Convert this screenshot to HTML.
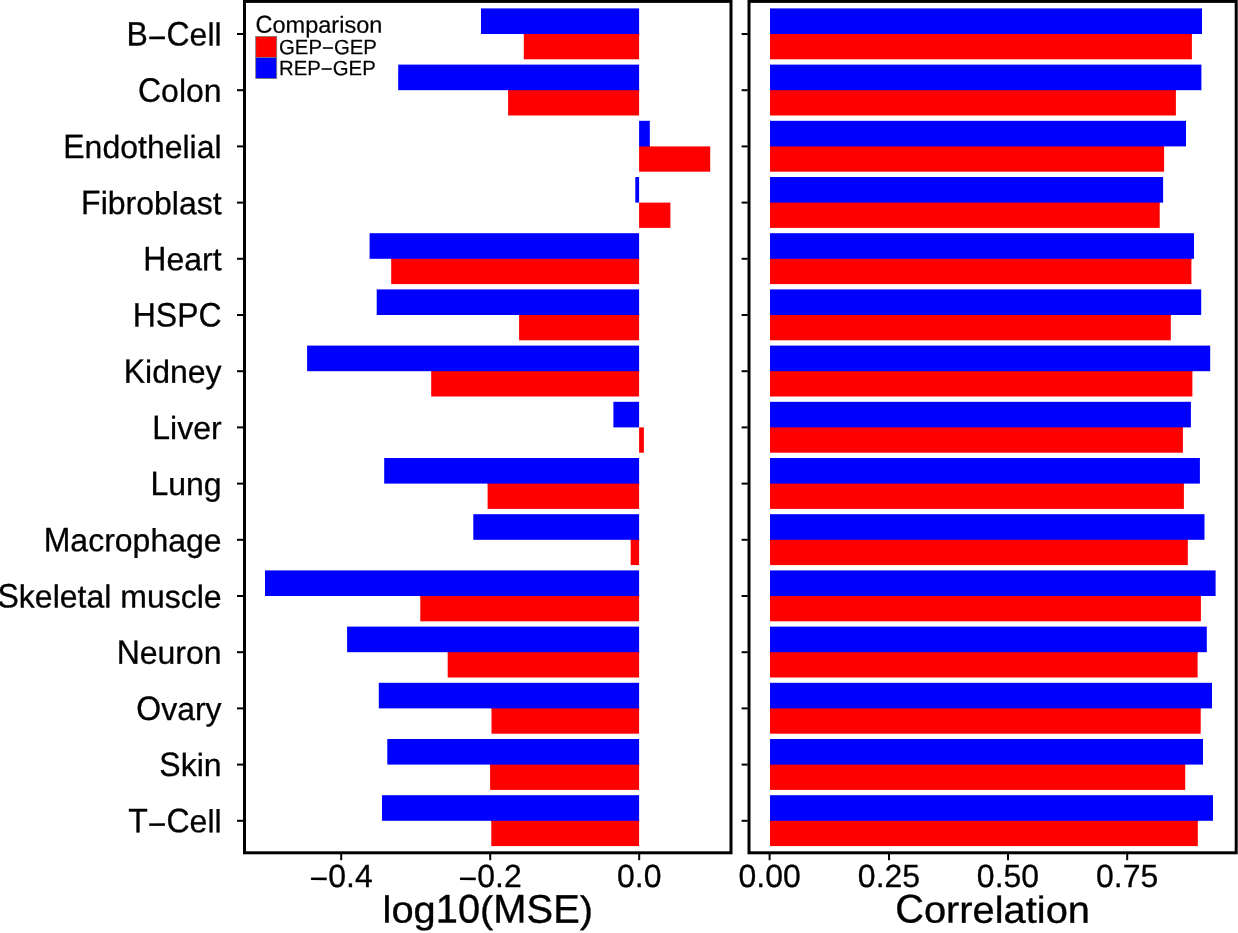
<!DOCTYPE html><html><head><meta charset="utf-8"><title>chart</title><style>html,body{margin:0;padding:0;background:#fff;}svg{display:block;}text{white-space:pre;font-family:"Liberation Sans",sans-serif;fill:#000;stroke:#000;stroke-linejoin:round;font-kerning:none;}</style></head><body>
<svg width="1238" height="933" viewBox="0 0 1238 933">
<rect x="0" y="0" width="1238" height="933" fill="#fff"/>
<rect x="523.80" y="34.00" width="115.30" height="25.30" fill="#ff0000"/>
<rect x="523.80" y="33.00" width="115.30" height="2.00" fill="#ff0000"/>
<rect x="481.00" y="8.40" width="158.10" height="25.60" fill="#0000ff"/>
<rect x="508.10" y="90.20" width="131.00" height="25.30" fill="#ff0000"/>
<rect x="508.10" y="89.20" width="131.00" height="2.00" fill="#ff0000"/>
<rect x="398.20" y="64.60" width="240.90" height="25.60" fill="#0000ff"/>
<rect x="639.10" y="146.40" width="71.10" height="25.30" fill="#ff0000"/>
<rect x="639.10" y="145.40" width="10.70" height="2.00" fill="#ff0000"/>
<rect x="639.10" y="120.80" width="10.70" height="25.60" fill="#0000ff"/>
<rect x="639.10" y="202.60" width="31.30" height="25.30" fill="#ff0000"/>
<rect x="635.30" y="177.00" width="3.80" height="25.60" fill="#0000ff"/>
<rect x="391.20" y="258.80" width="247.90" height="25.30" fill="#ff0000"/>
<rect x="391.20" y="257.80" width="247.90" height="2.00" fill="#ff0000"/>
<rect x="369.60" y="233.20" width="269.50" height="25.60" fill="#0000ff"/>
<rect x="519.10" y="315.00" width="120.00" height="25.30" fill="#ff0000"/>
<rect x="519.10" y="314.00" width="120.00" height="2.00" fill="#ff0000"/>
<rect x="376.70" y="289.40" width="262.40" height="25.60" fill="#0000ff"/>
<rect x="431.20" y="371.20" width="207.90" height="25.30" fill="#ff0000"/>
<rect x="431.20" y="370.20" width="207.90" height="2.00" fill="#ff0000"/>
<rect x="307.10" y="345.60" width="332.00" height="25.60" fill="#0000ff"/>
<rect x="639.10" y="427.40" width="4.80" height="25.30" fill="#ff0000"/>
<rect x="613.40" y="401.80" width="25.70" height="25.60" fill="#0000ff"/>
<rect x="487.60" y="483.60" width="151.50" height="25.30" fill="#ff0000"/>
<rect x="487.60" y="482.60" width="151.50" height="2.00" fill="#ff0000"/>
<rect x="384.20" y="458.00" width="254.90" height="25.60" fill="#0000ff"/>
<rect x="630.70" y="539.80" width="8.40" height="25.30" fill="#ff0000"/>
<rect x="630.70" y="538.80" width="8.40" height="2.00" fill="#ff0000"/>
<rect x="473.30" y="514.20" width="165.80" height="25.60" fill="#0000ff"/>
<rect x="420.30" y="596.00" width="218.80" height="25.30" fill="#ff0000"/>
<rect x="420.30" y="595.00" width="218.80" height="2.00" fill="#ff0000"/>
<rect x="265.00" y="570.40" width="374.10" height="25.60" fill="#0000ff"/>
<rect x="447.70" y="652.20" width="191.40" height="25.30" fill="#ff0000"/>
<rect x="447.70" y="651.20" width="191.40" height="2.00" fill="#ff0000"/>
<rect x="347.10" y="626.60" width="292.00" height="25.60" fill="#0000ff"/>
<rect x="491.50" y="708.40" width="147.60" height="25.30" fill="#ff0000"/>
<rect x="491.50" y="707.40" width="147.60" height="2.00" fill="#ff0000"/>
<rect x="378.80" y="682.80" width="260.30" height="25.60" fill="#0000ff"/>
<rect x="490.10" y="764.60" width="149.00" height="25.30" fill="#ff0000"/>
<rect x="490.10" y="763.60" width="149.00" height="2.00" fill="#ff0000"/>
<rect x="387.30" y="739.00" width="251.80" height="25.60" fill="#0000ff"/>
<rect x="491.30" y="820.80" width="147.80" height="25.30" fill="#ff0000"/>
<rect x="491.30" y="819.80" width="147.80" height="2.00" fill="#ff0000"/>
<rect x="382.00" y="795.20" width="257.10" height="25.60" fill="#0000ff"/>
<rect x="770.00" y="34.00" width="421.90" height="25.30" fill="#ff0000"/>
<rect x="770.00" y="33.00" width="421.90" height="2.00" fill="#ff0000"/>
<rect x="770.00" y="8.40" width="432.00" height="25.60" fill="#0000ff"/>
<rect x="770.00" y="90.20" width="405.90" height="25.30" fill="#ff0000"/>
<rect x="770.00" y="89.20" width="405.90" height="2.00" fill="#ff0000"/>
<rect x="770.00" y="64.60" width="431.40" height="25.60" fill="#0000ff"/>
<rect x="770.00" y="146.40" width="394.10" height="25.30" fill="#ff0000"/>
<rect x="770.00" y="145.40" width="394.10" height="2.00" fill="#ff0000"/>
<rect x="770.00" y="120.80" width="416.00" height="25.60" fill="#0000ff"/>
<rect x="770.00" y="202.60" width="389.70" height="25.30" fill="#ff0000"/>
<rect x="770.00" y="201.60" width="389.70" height="2.00" fill="#ff0000"/>
<rect x="770.00" y="177.00" width="393.10" height="25.60" fill="#0000ff"/>
<rect x="770.00" y="258.80" width="421.40" height="25.30" fill="#ff0000"/>
<rect x="770.00" y="257.80" width="421.40" height="2.00" fill="#ff0000"/>
<rect x="770.00" y="233.20" width="424.00" height="25.60" fill="#0000ff"/>
<rect x="770.00" y="315.00" width="400.80" height="25.30" fill="#ff0000"/>
<rect x="770.00" y="314.00" width="400.80" height="2.00" fill="#ff0000"/>
<rect x="770.00" y="289.40" width="431.20" height="25.60" fill="#0000ff"/>
<rect x="770.00" y="371.20" width="422.40" height="25.30" fill="#ff0000"/>
<rect x="770.00" y="370.20" width="422.40" height="2.00" fill="#ff0000"/>
<rect x="770.00" y="345.60" width="440.20" height="25.60" fill="#0000ff"/>
<rect x="770.00" y="427.40" width="412.90" height="25.30" fill="#ff0000"/>
<rect x="770.00" y="426.40" width="412.90" height="2.00" fill="#ff0000"/>
<rect x="770.00" y="401.80" width="420.90" height="25.60" fill="#0000ff"/>
<rect x="770.00" y="483.60" width="413.90" height="25.30" fill="#ff0000"/>
<rect x="770.00" y="482.60" width="413.90" height="2.00" fill="#ff0000"/>
<rect x="770.00" y="458.00" width="429.90" height="25.60" fill="#0000ff"/>
<rect x="770.00" y="539.80" width="417.80" height="25.30" fill="#ff0000"/>
<rect x="770.00" y="538.80" width="417.80" height="2.00" fill="#ff0000"/>
<rect x="770.00" y="514.20" width="434.50" height="25.60" fill="#0000ff"/>
<rect x="770.00" y="596.00" width="430.90" height="25.30" fill="#ff0000"/>
<rect x="770.00" y="595.00" width="430.90" height="2.00" fill="#ff0000"/>
<rect x="770.00" y="570.40" width="445.60" height="25.60" fill="#0000ff"/>
<rect x="770.00" y="652.20" width="427.60" height="25.30" fill="#ff0000"/>
<rect x="770.00" y="651.20" width="427.60" height="2.00" fill="#ff0000"/>
<rect x="770.00" y="626.60" width="436.80" height="25.60" fill="#0000ff"/>
<rect x="770.00" y="708.40" width="430.70" height="25.30" fill="#ff0000"/>
<rect x="770.00" y="707.40" width="430.70" height="2.00" fill="#ff0000"/>
<rect x="770.00" y="682.80" width="442.00" height="25.60" fill="#0000ff"/>
<rect x="770.00" y="764.60" width="415.20" height="25.30" fill="#ff0000"/>
<rect x="770.00" y="763.60" width="415.20" height="2.00" fill="#ff0000"/>
<rect x="770.00" y="739.00" width="433.00" height="25.60" fill="#0000ff"/>
<rect x="770.00" y="820.80" width="427.80" height="25.30" fill="#ff0000"/>
<rect x="770.00" y="819.80" width="427.80" height="2.00" fill="#ff0000"/>
<rect x="770.00" y="795.20" width="443.00" height="25.60" fill="#0000ff"/>
<rect x="244.5" y="1.4" width="486.5" height="851.4" fill="none" stroke="#000" stroke-width="3"/>
<rect x="749" y="1.4" width="487.2" height="851.4" fill="none" stroke="#000" stroke-width="3"/>
<line x1="237" x2="243.2" y1="34.00" y2="34.00" stroke="#000" stroke-width="2"/>
<line x1="741.6" x2="747.7" y1="34.00" y2="34.00" stroke="#000" stroke-width="2"/>
<line x1="237" x2="243.2" y1="90.20" y2="90.20" stroke="#000" stroke-width="2"/>
<line x1="741.6" x2="747.7" y1="90.20" y2="90.20" stroke="#000" stroke-width="2"/>
<line x1="237" x2="243.2" y1="146.40" y2="146.40" stroke="#000" stroke-width="2"/>
<line x1="741.6" x2="747.7" y1="146.40" y2="146.40" stroke="#000" stroke-width="2"/>
<line x1="237" x2="243.2" y1="202.60" y2="202.60" stroke="#000" stroke-width="2"/>
<line x1="741.6" x2="747.7" y1="202.60" y2="202.60" stroke="#000" stroke-width="2"/>
<line x1="237" x2="243.2" y1="258.80" y2="258.80" stroke="#000" stroke-width="2"/>
<line x1="741.6" x2="747.7" y1="258.80" y2="258.80" stroke="#000" stroke-width="2"/>
<line x1="237" x2="243.2" y1="315.00" y2="315.00" stroke="#000" stroke-width="2"/>
<line x1="741.6" x2="747.7" y1="315.00" y2="315.00" stroke="#000" stroke-width="2"/>
<line x1="237" x2="243.2" y1="371.20" y2="371.20" stroke="#000" stroke-width="2"/>
<line x1="741.6" x2="747.7" y1="371.20" y2="371.20" stroke="#000" stroke-width="2"/>
<line x1="237" x2="243.2" y1="427.40" y2="427.40" stroke="#000" stroke-width="2"/>
<line x1="741.6" x2="747.7" y1="427.40" y2="427.40" stroke="#000" stroke-width="2"/>
<line x1="237" x2="243.2" y1="483.60" y2="483.60" stroke="#000" stroke-width="2"/>
<line x1="741.6" x2="747.7" y1="483.60" y2="483.60" stroke="#000" stroke-width="2"/>
<line x1="237" x2="243.2" y1="539.80" y2="539.80" stroke="#000" stroke-width="2"/>
<line x1="741.6" x2="747.7" y1="539.80" y2="539.80" stroke="#000" stroke-width="2"/>
<line x1="237" x2="243.2" y1="596.00" y2="596.00" stroke="#000" stroke-width="2"/>
<line x1="741.6" x2="747.7" y1="596.00" y2="596.00" stroke="#000" stroke-width="2"/>
<line x1="237" x2="243.2" y1="652.20" y2="652.20" stroke="#000" stroke-width="2"/>
<line x1="741.6" x2="747.7" y1="652.20" y2="652.20" stroke="#000" stroke-width="2"/>
<line x1="237" x2="243.2" y1="708.40" y2="708.40" stroke="#000" stroke-width="2"/>
<line x1="741.6" x2="747.7" y1="708.40" y2="708.40" stroke="#000" stroke-width="2"/>
<line x1="237" x2="243.2" y1="764.60" y2="764.60" stroke="#000" stroke-width="2"/>
<line x1="741.6" x2="747.7" y1="764.60" y2="764.60" stroke="#000" stroke-width="2"/>
<line x1="237" x2="243.2" y1="820.80" y2="820.80" stroke="#000" stroke-width="2"/>
<line x1="741.6" x2="747.7" y1="820.80" y2="820.80" stroke="#000" stroke-width="2"/>
<line x1="341.2" x2="341.2" y1="854" y2="860.2" stroke="#000" stroke-width="2"/>
<line x1="490.2" x2="490.2" y1="854" y2="860.2" stroke="#000" stroke-width="2"/>
<line x1="639.2" x2="639.2" y1="854" y2="860.2" stroke="#000" stroke-width="2"/>
<line x1="769.6" x2="769.6" y1="854" y2="860.2" stroke="#000" stroke-width="2"/>
<line x1="889.0" x2="889.0" y1="854" y2="860.2" stroke="#000" stroke-width="2"/>
<line x1="1008.0" x2="1008.0" y1="854" y2="860.2" stroke="#000" stroke-width="2"/>
<line x1="1127.2" x2="1127.2" y1="854" y2="860.2" stroke="#000" stroke-width="2"/>
<rect x="255.7" y="36.4" width="21" height="21" fill="#ff0000" stroke="#777" stroke-width="0.8"/>
<rect x="255.7" y="57.5" width="21" height="21" fill="#0000ff" stroke="#777" stroke-width="0.8"/>
<g opacity="0.999">
<text transform="translate(126.44,45.50) scale(1,1.0600) skewY(0.05)" font-size="32.0" stroke-width="0.30">B</text><text transform="translate(147.79,48.44) scale(1,1.0000) skewY(0.05)" font-size="32.0" stroke-width="0.30">−</text><text transform="translate(166.47,45.50) scale(1,1.0600) skewY(0.05)" font-size="32.0" stroke-width="0.30">C</text><text transform="translate(189.58,45.50) scale(1,1.0000) skewY(0.05)" font-size="32.0" stroke-width="0.30">ell</text>
<text transform="translate(137.99,101.70) scale(1,1.0600) skewY(0.05)" font-size="32.0" stroke-width="0.30">C</text><text transform="translate(161.10,101.70) scale(1,1.0000) skewY(0.05)" font-size="32.0" stroke-width="0.30">olon</text>
<text transform="translate(63.26,157.90) scale(1,1.0600) skewY(0.05)" font-size="32.0" stroke-width="0.30">E</text><text transform="translate(84.60,157.90) scale(1,1.0000) skewY(0.05)" font-size="32.0" stroke-width="0.30">ndothelial</text>
<text transform="translate(81.10,214.10) scale(1,1.0600) skewY(0.05)" font-size="32.0" stroke-width="0.30">F</text><text transform="translate(100.65,214.10) scale(1,1.0000) skewY(0.05)" font-size="32.0" stroke-width="0.30">ibroblast</text>
<text transform="translate(143.35,270.30) scale(1,1.0600) skewY(0.05)" font-size="32.0" stroke-width="0.30">H</text><text transform="translate(166.46,270.30) scale(1,1.0000) skewY(0.05)" font-size="32.0" stroke-width="0.30">eart</text>
<text transform="translate(132.69,326.50) scale(1,1.0600) skewY(0.05)" font-size="32.0" stroke-width="0.30">HSPC</text>
<text transform="translate(123.76,382.70) scale(1,1.0600) skewY(0.05)" font-size="32.0" stroke-width="0.30">K</text><text transform="translate(145.10,382.70) scale(1,1.0000) skewY(0.05)" font-size="32.0" stroke-width="0.30">idney</text>
<text transform="translate(152.24,438.90) scale(1,1.0600) skewY(0.05)" font-size="32.0" stroke-width="0.30">L</text><text transform="translate(170.04,438.90) scale(1,1.0000) skewY(0.05)" font-size="32.0" stroke-width="0.30">iver</text>
<text transform="translate(150.41,495.10) scale(1,1.0600) skewY(0.05)" font-size="32.0" stroke-width="0.30">L</text><text transform="translate(168.21,495.10) scale(1,1.0000) skewY(0.05)" font-size="32.0" stroke-width="0.30">ung</text>
<text transform="translate(43.71,551.30) scale(1,1.0600) skewY(0.05)" font-size="32.0" stroke-width="0.30">M</text><text transform="translate(70.37,551.30) scale(1,1.0000) skewY(0.05)" font-size="32.0" stroke-width="0.30">acrophage</text>
<text transform="translate(-2.49,607.50) scale(1,1.0600) skewY(0.05)" font-size="32.0" stroke-width="0.30">S</text><text transform="translate(18.85,607.50) scale(1,1.0000) skewY(0.05)" font-size="32.0" stroke-width="0.30">keletal muscle</text>
<text transform="translate(116.65,663.70) scale(1,1.0600) skewY(0.05)" font-size="32.0" stroke-width="0.30">N</text><text transform="translate(139.76,663.70) scale(1,1.0000) skewY(0.05)" font-size="32.0" stroke-width="0.30">euron</text>
<text transform="translate(136.26,719.90) scale(1,1.0600) skewY(0.05)" font-size="32.0" stroke-width="0.30">O</text><text transform="translate(161.15,719.90) scale(1,1.0000) skewY(0.05)" font-size="32.0" stroke-width="0.30">vary</text>
<text transform="translate(159.35,776.10) scale(1,1.0600) skewY(0.05)" font-size="32.0" stroke-width="0.30">S</text><text transform="translate(180.69,776.10) scale(1,1.0000) skewY(0.05)" font-size="32.0" stroke-width="0.30">kin</text>
<text transform="translate(128.24,832.30) scale(1,1.0600) skewY(0.05)" font-size="32.0" stroke-width="0.30">T</text><text transform="translate(147.79,835.24) scale(1,1.0000) skewY(0.05)" font-size="32.0" stroke-width="0.30">−</text><text transform="translate(166.47,832.30) scale(1,1.0600) skewY(0.05)" font-size="32.0" stroke-width="0.30">C</text><text transform="translate(189.58,832.30) scale(1,1.0000) skewY(0.05)" font-size="32.0" stroke-width="0.30">ell</text>
<text transform="translate(309.61,889.41) scale(1,1.0030) skewY(0.05)" font-size="32.0" stroke-width="0.30">−</text><text transform="translate(328.30,887.00) scale(1,1.0030) skewY(0.05)" font-size="32.0" stroke-width="0.30">0.4</text>
<text transform="translate(458.61,889.41) scale(1,1.0030) skewY(0.05)" font-size="32.0" stroke-width="0.30">−</text><text transform="translate(477.30,887.00) scale(1,1.0030) skewY(0.05)" font-size="32.0" stroke-width="0.30">0.2</text>
<text transform="translate(616.96,887.00) scale(1,1.0030) skewY(0.05)" font-size="32.0" stroke-width="0.30">0.0</text>
<text transform="translate(738.46,887.00) scale(1,1.0030) skewY(0.05)" font-size="32.0" stroke-width="0.30">0.00</text>
<text transform="translate(857.86,887.00) scale(1,1.0030) skewY(0.05)" font-size="32.0" stroke-width="0.30">0.25</text>
<text transform="translate(976.86,887.00) scale(1,1.0030) skewY(0.05)" font-size="32.0" stroke-width="0.30">0.50</text>
<text transform="translate(1096.06,887.00) scale(1,1.0030) skewY(0.05)" font-size="32.0" stroke-width="0.30">0.75</text>
<text transform="translate(382.60,922.60) scale(1,0.9480) skewY(0.05)" font-size="39.85" stroke-width="0.37">log</text><text transform="translate(435.78,922.60) scale(1,1.0049) skewY(0.05)" font-size="39.85" stroke-width="0.37">10</text><text transform="translate(480.10,922.60) scale(1,0.9480) skewY(0.05)" font-size="39.85" stroke-width="0.37">(</text><text transform="translate(493.37,922.60) scale(1,1.0049) skewY(0.05)" font-size="39.85" stroke-width="0.37">MSE</text><text transform="translate(579.73,922.60) scale(1,0.9480) skewY(0.05)" font-size="39.85" stroke-width="0.37">)</text>
<text transform="translate(895.14,922.60) scale(1,1.0049) skewY(0.05)" font-size="39.85" stroke-width="0.37">C</text><text transform="translate(923.92,922.60) scale(1,0.9480) skewY(0.05)" font-size="39.85" stroke-width="0.37">orrelation</text>
<text transform="translate(255.50,32.70) scale(1,1.0494) skewY(0.05)" font-size="23.54" stroke-width="0.22">C</text><text transform="translate(272.50,32.70) scale(1,0.9900) skewY(0.05)" font-size="23.54" stroke-width="0.22">omparison</text>
<text transform="translate(279.00,54.30) scale(1,1.0220) skewY(0.05)" font-size="20.36" stroke-width="0.19">GEP</text><text transform="translate(322.00,55.03) scale(1,1.0220) skewY(0.05)" font-size="20.36" stroke-width="0.19">−</text><text transform="translate(333.89,54.30) scale(1,1.0220) skewY(0.05)" font-size="20.36" stroke-width="0.19">GEP</text>
<text transform="translate(279.00,75.20) scale(1,1.0220) skewY(0.05)" font-size="20.36" stroke-width="0.19">REP</text><text transform="translate(320.86,75.93) scale(1,1.0220) skewY(0.05)" font-size="20.36" stroke-width="0.19">−</text><text transform="translate(332.75,75.20) scale(1,1.0220) skewY(0.05)" font-size="20.36" stroke-width="0.19">GEP</text>
</g>
</svg></body></html>
